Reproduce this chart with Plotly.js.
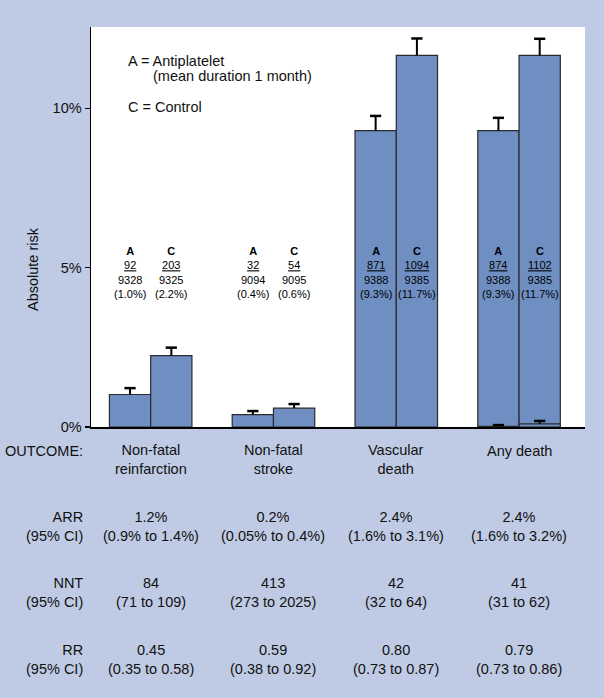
<!DOCTYPE html>
<html>
<head>
<meta charset="utf-8">
<script src="https://cdn.plot.ly/plotly-3.0.1.min.js"></script>
<style>html,body{margin:0;padding:0;background:#bfcbe4;}</style>
</head>
<body>
<div id="chart" style="width:604px;height:698px;"></div>
<script>
// ---- data ----
var outcomes = ["Non-fatal<br>reinfarction", "Non-fatal<br>stroke", "Vascular<br>death", "Any death"];
var groupIdx = [0, 1, 2, 3];
var riskA = [1.02, 0.39, 9.30, 9.30];
var riskC = [2.24, 0.59, 11.66, 11.66];
var errA = [0.20, 0.11, 0.46, 0.40];
var errC = [0.25, 0.13, 0.53, 0.52];
var eventsA = [92, 32, 871, 874];
var totalA = [9328, 9094, 9388, 9388];
var pctA = ["1.0%", "0.4%", "9.3%", "9.3%"];
var eventsC = [203, 54, 1094, 1102];
var totalC = [9325, 9095, 9385, 9385];
var pctC = ["2.2%", "0.6%", "11.7%", "11.7%"];
// small stray marks at the foot of the "Any death" bars in the source figure
var strayA = [null, null, null, 0.02];
var strayAerr = [null, null, null, 0.04];
var strayC = [null, null, null, 0.10];
var strayCerr = [null, null, null, 0.09];
var arr = ["1.2%", "0.2%", "2.4%", "2.4%"];
var arrCI = ["(0.9% to 1.4%)", "(0.05% to 0.4%)", "(1.6% to 3.1%)", "(1.6% to 3.2%)"];
var nnt = ["84", "413", "42", "41"];
var nntCI = ["(71 to 109)", "(273 to 2025)", "(32 to 64)", "(31 to 62)"];
var rr = ["0.45", "0.59", "0.80", "0.79"];
var rrCI = ["(0.35 to 0.58)", "(0.38 to 0.92)", "(0.73 to 0.87)", "(0.73 to 0.86)"];
var yTickVals = [0, 5, 10];
var yTickText = ["0%", "5%", "10%"];

// ---- styling ----
var FONT = "Liberation Sans, Arial, Helvetica, sans-serif";
var FS = 14.5;
var BAR = "#6f8fc3";
var EDGE = "#2b2b2b";
var BG = "#bfcbe4";
var PLOT_TOP = 27, PLOT_BOT = 427, PLOT_L = 91, PLOT_W = 494;
var OFF = 0.168; // half of a bar slot inside a group (bargap 0.328, 2 bars)
function py(px) { return (PLOT_BOT - px) / (PLOT_BOT - PLOT_TOP); }
function pxx(px) { return (px - PLOT_L) / PLOT_W; }

function barTrace(y, xa) {
  return {
    type: "bar", x: groupIdx, y: y, xaxis: xa || "x", yaxis: "y",
    marker: {color: BAR, line: {color: EDGE, width: 1.2}},
    hoverinfo: "skip", showlegend: false
  };
}

// one-sided (upward) error bars: stems + caps, built from the data arrays
var stemX = [], stemY = [], capX = [], capY = [];
function addErr(vals, errs, shift) {
  for (var i = 0; i < groupIdx.length; i++) {
    if (vals[i] == null || errs[i] == null) continue;
    var xx = groupIdx[i] + shift;
    stemX.push(xx, xx, null);
    stemY.push(vals[i], vals[i] + errs[i], null);
    capX.push(xx);
    capY.push(vals[i] + errs[i]);
  }
}
addErr(riskA, errA, -OFF);
addErr(riskC, errC, OFF);
addErr(strayA, strayAerr, -OFF);
addErr(strayC, strayCerr, OFF);

var data = [
  barTrace(riskA),
  barTrace(riskC),
  barTrace(strayA, "x2"),
  barTrace(strayC, "x2"),
  {type: "scatter", mode: "lines", x: stemX, y: stemY, xaxis: "x2", yaxis: "y",
   line: {color: "#000", width: 2}, connectgaps: false, hoverinfo: "skip", showlegend: false},
  {type: "scatter", mode: "markers", x: capX, y: capY, xaxis: "x2", yaxis: "y",
   marker: {symbol: "line-ew", size: 8, color: "#000", line: {color: "#000", width: 2.5}},
   hoverinfo: "skip", showlegend: false}
];

var ann = [];
for (var i = 0; i < groupIdx.length; i++) {
  ann.push({x: groupIdx[i] - OFF, y: 4.84, xref: "x", yref: "y", yanchor: "middle", xanchor: "center",
    showarrow: false, align: "center", font: {family: FONT, size: 11, color: "#000"},
    text: "<b>A</b><br><u>" + eventsA[i] + "</u><br>" + totalA[i] + "<br>(" + pctA[i] + ")"});
  ann.push({x: groupIdx[i] + OFF, y: 4.84, xref: "x", yref: "y", yanchor: "middle", xanchor: "center",
    showarrow: false, align: "center", font: {family: FONT, size: 11, color: "#000"},
    text: "<b>C</b><br><u>" + eventsC[i] + "</u><br>" + totalC[i] + "<br>(" + pctC[i] + ")"});
}

function ptxt(text, xpx, ypx, anchor, size) {
  return {x: pxx(xpx), y: py(ypx), xref: "paper", yref: "paper", xanchor: anchor || "left",
    yanchor: "middle", showarrow: false, align: anchor === "right" ? "right" : (anchor === "center" ? "center" : "left"),
    font: {family: FONT, size: size || FS, color: "#111"}, text: text};
}
ann.push(ptxt("A = Antiplatelet", 126, 61));
ann.push(ptxt("(mean duration 1 month)", 151, 76));
ann.push(ptxt("C = Control", 126, 107));

ann.push({x: pxx(33), y: py(269), xref: "paper", yref: "paper", xanchor: "center", yanchor: "middle",
  textangle: -90, showarrow: false, font: {family: FONT, size: FS, color: "#111"}, text: "Absolute risk"});

var LABEL_R = 85;
ann.push(ptxt("OUTCOME:", LABEL_R, 450.5, "right"));
for (var i = 0; i < groupIdx.length; i++) {
  var twoLine = outcomes[i].indexOf("<br>") >= 0;
  ann.push({x: groupIdx[i], y: py(twoLine ? 459 : 450.5), xref: "x", yref: "paper", xanchor: "center",
    yanchor: "middle", showarrow: false, align: "center", font: {family: FONT, size: FS, color: "#111"},
    text: outcomes[i]});
}
var rows = [
  ["ARR", arr, arrCI, 526.5],
  ["NNT", nnt, nntCI, 592],
  ["RR", rr, rrCI, 659.5]
];
rows.forEach(function (r) {
  ann.push(ptxt(r[0] + "<br>(95% CI)", LABEL_R, r[3], "right"));
  for (var i = 0; i < groupIdx.length; i++) {
    ann.push({x: groupIdx[i], y: py(r[3]), xref: "x", yref: "paper", xanchor: "center",
      yanchor: "middle", showarrow: false, align: "center", font: {family: FONT, size: FS, color: "#111"},
      text: r[1][i] + "<br>" + r[2][i]});
  }
});

var XR = [-0.486, 3.537];
var layout = {
  width: 604, height: 698,
  margin: {l: PLOT_L, r: 604 - PLOT_L - PLOT_W, t: PLOT_TOP, b: 698 - PLOT_BOT, pad: 0},
  paper_bgcolor: BG, plot_bgcolor: "#ffffff",
  barmode: "group", bargap: 0.328, bargroupgap: 0,
  font: {family: FONT, size: FS, color: "#111"},
  xaxis: {range: XR, showticklabels: false, ticks: "", showgrid: false, zeroline: false,
          showline: true, linecolor: "#000", linewidth: 1.5, fixedrange: true},
  xaxis2: {range: XR, overlaying: "x", visible: false, showgrid: false, zeroline: false, fixedrange: true},
  yaxis: {range: [0, 12.55], tickvals: yTickVals, ticktext: yTickText, ticks: "outside",
          ticklen: 5, tickwidth: 1.5, tickcolor: "#000", showline: true, linecolor: "#000",
          linewidth: 1.5, showgrid: false, zeroline: false, fixedrange: true,
          tickfont: {family: FONT, size: FS, color: "#111"}},
  annotations: ann,
  showlegend: false
};

Plotly.newPlot("chart", data, layout, {displayModeBar: false, staticPlot: true});
</script>
</body>
</html>
